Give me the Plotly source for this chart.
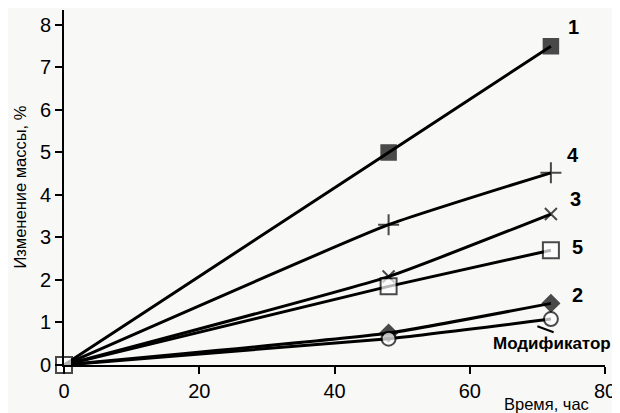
import plotly.graph_objects as go

hours = [0, 48, 72]
s1 = [0, 5.0, 7.5]
s4 = [0, 3.3, 4.52]
s3 = [0, 2.08, 3.55]
s5 = [0, 1.85, 2.7]
s2 = [0, 0.75, 1.45]
smod = [0, 0.62, 1.08]

labels = ["1", "4", "3", "5", "2"]
label_x = [75.3, 75.3, 75.7, 76.0, 76.0]
label_y = [7.95, 4.95, 3.9, 2.78, 1.65]

FONT = "Liberation Sans, Arial, sans-serif"
fig = go.Figure()

def add(y, symbol, size, fill="black", lw=1.5, hide0=True):
    sizes = [0 if (hide0 and i == 0) else size for i in range(len(y))]
    fig.add_trace(go.Scatter(
        x=hours, y=y, mode="lines+markers",
        line=dict(color="black", width=3, shape="spline", smoothing=0.4),
        marker=dict(symbol=symbol, size=sizes, color=fill,
                    line=dict(color="black", width=lw)),
        cliponaxis=False, showlegend=False))

add(s1, "square", 15)
add(s4, "cross-thin", 15, lw=2)
add(s3, "x-thin", 12, lw=2)
add(s2, "diamond", 13)
add(smod, "circle", 14, fill="white", lw=2)
add(s5, "square", 16, fill="white", lw=2, hide0=False)

for t, xx, yy in zip(labels, label_x, label_y):
    fig.add_annotation(x=xx, y=yy, text=f"<b>{t}</b>", showarrow=False,
                       font=dict(size=20, color="black", family=FONT))
fig.add_annotation(x=72.2, y=0.5, text="<b>Модификатор</b>", showarrow=False,
                   font=dict(size=17, color="black", family=FONT))
fig.add_shape(type="line", x0=70.0, y0=0.91, x1=72.4, y1=0.77,
              line=dict(color="black", width=2))

fig.add_annotation(xref="paper", yref="paper", x=0.975, y=-0.08, xanchor="right",
                   yanchor="top", text="Время, час", showarrow=False,
                   font=dict(size=16.5, color="black", family=FONT))
fig.add_annotation(xref="paper", yref="paper", x=-0.083, y=0.5, xanchor="center",
                   yanchor="middle", textangle=-90, text="Изменение массы, %",
                   showarrow=False, font=dict(size=16.5, color="black", family=FONT))

fig.update_layout(
    width=620, height=413,
    margin=dict(l=56, r=23, t=2, b=56),
    paper_bgcolor="#f8f8f7", plot_bgcolor="#f8f8f7",
    font=dict(family=FONT, color="black"),
    xaxis=dict(range=[0, 80], tickvals=[0, 20, 40, 60, 80], showgrid=False,
               zeroline=False, showline=True, linecolor="black", linewidth=1.6,
               ticks="outside", ticklen=7, tickwidth=1.6, tickcolor="black",
               tickfont=dict(size=20), automargin=False),
    yaxis=dict(range=[0, 8.35], tickvals=list(range(9)), showgrid=False,
               zeroline=False, showline=True, linecolor="black", linewidth=1.6,
               ticks="outside", ticklen=7, tickwidth=1.6, tickcolor="black",
               tickfont=dict(size=20), automargin=False),
)

fig.write_html("out.html")
